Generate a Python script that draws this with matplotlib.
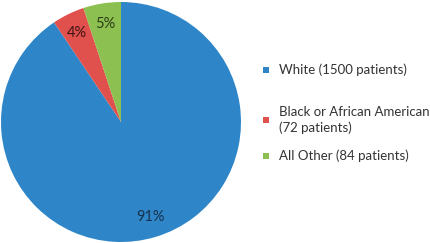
import matplotlib
matplotlib.use("Agg")
import matplotlib.pyplot as plt
from matplotlib.patches import Rectangle

categories = ["White", "Black or African American", "All Other"]
patients = [1500, 72, 84]
legend_labels = ["White (1500 patients)", "Black or African American\n(72 patients)", "All Other (84 patients)"]
colors = ["#2e86c8", "#e0504c", "#8cc152"]
text_colors = ["#16324f", "#3f1414", "#2c3d16"]

plt.rcParams['font.family'] = ['Lato', 'DejaVu Sans']

fig = plt.figure(figsize=(4.30, 2.43), dpi=100)
ax = fig.add_axes([1/430, 1/243, 240/430, 240/243])
wedges, texts, autotexts = ax.pie(
    patients, colors=colors, startangle=90, counterclock=False,
    autopct=lambda p: f"{p:.0f}%", pctdistance=0.83, radius=1,
    textprops=dict(fontsize=10.5))
for t, c in zip(autotexts, text_colors):
    t.set_color(c)
ax.set_xlim(-1, 1)
ax.set_ylim(-1, 1)
ax.set_aspect('equal')
ax.axis('off')

# legend drawn manually to match spacing
ys = [70, 120, 156]
for lab, col, y in zip(legend_labels, colors, ys):
    fig.patches.append(Rectangle((263/430, 1 - (y + 3)/243), 6/430, 6/243,
                                 transform=fig.transFigure, facecolor=col, edgecolor='none'))
    fig.text(279/430, 1 - y/243, lab, fontsize=9.5, color="#333333",
             va='center', ha='left', linespacing=1.35)

fig.savefig("out.png", dpi=100)
